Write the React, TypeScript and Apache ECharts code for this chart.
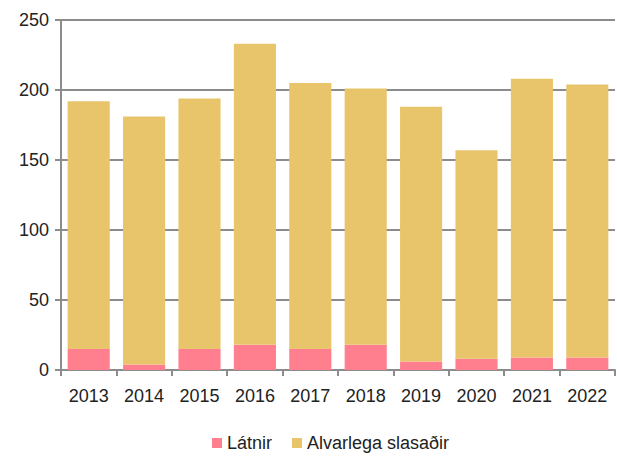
import React, { useEffect, useRef } from "react";
import * as echarts from "echarts";

const years = ["2013", "2014", "2015", "2016", "2017", "2018", "2019", "2020", "2021", "2022"];
const latnir = [15, 4, 15, 18, 15, 18, 6, 8, 9, 9];
const alvarlega = [177, 177, 179, 215, 190, 183, 182, 149, 199, 195];

export default function App() {
  const ref = useRef<HTMLDivElement>(null);
  useEffect(() => {
    if (!ref.current) return;
    const chart = echarts.init(ref.current, undefined, { renderer: "svg" });
    const font = "Liberation Sans, Arial, sans-serif";
    chart.setOption({
      animation: false,
      grid: { left: 61, right: 2, top: 20, bottom: 87, containLabel: false },
      legend: {
        bottom: 0,
        left: 207,
        itemWidth: 10,
        itemHeight: 10,
        itemGap: 20,
        icon: "rect",
        textStyle: { fontFamily: font, fontSize: 18, color: "#222" },
        data: ["Látnir", "Alvarlega slasaðir"],
      },
      xAxis: {
        type: "category",
        data: years,
        axisLine: { lineStyle: { color: "#8c8c8c", width: 2 } },
        axisTick: { show: true, alignWithLabel: false, length: 6, lineStyle: { color: "#8c8c8c", width: 2 } },
        axisLabel: { fontFamily: font, fontSize: 18, color: "#222", margin: 17 },
      },
      yAxis: {
        type: "value",
        min: 0,
        max: 250,
        interval: 50,
        axisLine: { show: true, lineStyle: { color: "#8c8c8c", width: 2 } },
        axisTick: { show: true, length: 6, lineStyle: { color: "#8c8c8c", width: 2 } },
        axisLabel: { fontFamily: font, fontSize: 18, color: "#222", margin: 12 },
        splitLine: { lineStyle: { color: "#8c8c8c", width: 2 } },
      },
      series: [
        {
          name: "Látnir",
          type: "bar",
          stack: "a",
          data: latnir,
          barCategoryGap: "24%",
          itemStyle: { color: "#FF7F8F" },
        },
        {
          name: "Alvarlega slasaðir",
          type: "bar",
          stack: "a",
          data: alvarlega,
          barCategoryGap: "24%",
          itemStyle: { color: "#E8C56B" },
        },
      ],
    });
    return () => chart.dispose();
  }, []);
  return <div ref={ref} style={{ width: 617, height: 457, position: "absolute", left: 0, top: 0 }} />;
}
